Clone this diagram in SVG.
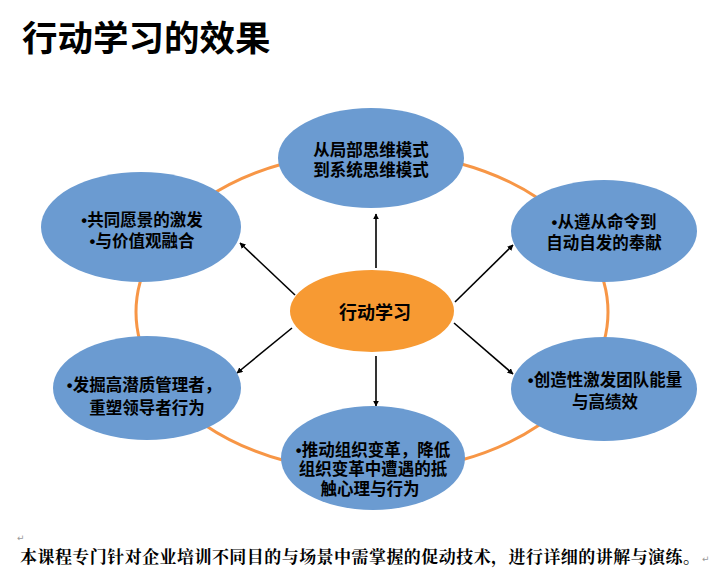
<svg xmlns="http://www.w3.org/2000/svg" width="709" height="578" viewBox="0 0 709 578">
<defs>
<style>
.title{font-family:"Noto Sans CJK SC","Liberation Sans",sans-serif;font-weight:700;font-size:35.5px;fill:#000}
.nt{font-family:"Liberation Sans","Noto Sans CJK SC",sans-serif;font-weight:700;font-size:16.5px;fill:#000;text-anchor:middle}
.ct{font-family:"Noto Sans CJK SC","Liberation Sans",sans-serif;font-weight:700;font-size:18px;fill:#000;text-anchor:middle}
.blue{fill:#6B9BD1}
.conn line{stroke:#000;stroke-width:1.6;marker-end:url(#ah)}
.foot{font-family:"Noto Serif CJK SC","Noto Sans CJK SC","Liberation Serif",serif;font-weight:700;font-size:17px;fill:#000}
.pm{font-family:"DejaVu Sans",sans-serif;font-size:9px;fill:#999}
</style>
<marker id="ah" viewBox="0 0 10 10" refX="9" refY="5" markerWidth="6" markerHeight="6" orient="auto" markerUnits="userSpaceOnUse">
<path d="M0,0 L10,5 L0,10 z" fill="#000"/>
</marker>
</defs>
<rect width="709" height="578" fill="#fff"/>
<text class="title" x="22" y="51">行动学习的效果</text>

<ellipse id="ring" cx="372" cy="312" rx="236" ry="160" fill="none" stroke="#F79646" stroke-width="3"/>

<g id="connectors" class="conn">
<line x1="376" y1="268" x2="376" y2="214"/>
<line x1="376" y1="356" x2="376" y2="406"/>
<line x1="295" y1="295" x2="240" y2="243"/>
<line x1="455" y1="302" x2="513" y2="245"/>
<line x1="292" y1="328" x2="237" y2="373"/>
<line x1="454" y1="323" x2="513" y2="374"/>
</g>

<g id="node-top">
<ellipse class="blue" cx="371" cy="158" rx="93" ry="50"/>
<text class="nt" x="371" y="156">从局部思维模式</text>
<text class="nt" x="371" y="176">到系统思维模式</text>
</g>

<g id="node-topleft">
<ellipse class="blue" cx="141" cy="227" rx="100" ry="55"/>
<text class="nt" x="142" y="226">•共同愿景的激发</text>
<text class="nt" x="142" y="247">•与价值观融合</text>
</g>

<g id="node-topright">
<ellipse class="blue" cx="604" cy="231" rx="93" ry="51"/>
<text class="nt" x="604" y="228">•从遵从命令到</text>
<text class="nt" x="604" y="249">自动自发的奉献</text>
</g>

<g id="node-bottomright">
<ellipse class="blue" cx="604" cy="389" rx="93" ry="52"/>
<text class="nt" x="605" y="386">•创造性激发团队能量</text>
<text class="nt" x="605" y="408">与高绩效</text>
</g>

<g id="node-bottomleft">
<ellipse class="blue" cx="147" cy="388" rx="94" ry="52"/>
<text class="nt" x="144" y="391">•发掘高潜质管理者，</text>
<text class="nt" x="147" y="414">重塑领导者行为</text>
</g>

<g id="node-bottom">
<ellipse class="blue" cx="373" cy="458" rx="92" ry="52"/>
<text class="nt" x="373" y="456">•推动组织变革，降低</text>
<text class="nt" x="373" y="475">组织变革中遭遇的抵</text>
<text class="nt" x="370" y="495">触心理与行为</text>
</g>

<g id="node-center">
<ellipse cx="372" cy="311" rx="82" ry="41" fill="#F79A33"/>
<text class="ct" x="375" y="319">行动学习</text>
</g>

<text class="pm" x="17" y="541">↵</text>
<text class="foot" x="20" y="563" textLength="680" lengthAdjust="spacing">本课程专门针对企业培训不同目的与场景中需掌握的促动技术，进行详细的讲解与演练。</text>
<text class="pm" x="702" y="562">↵</text>
</svg>
